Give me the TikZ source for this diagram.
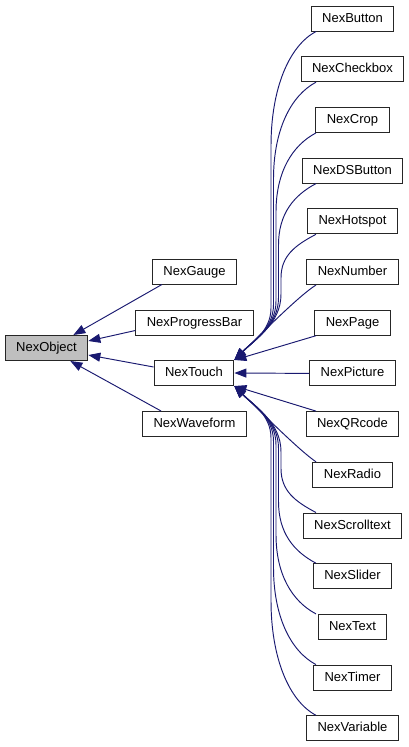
\documentclass[tikz,border=0pt]{standalone}
\usepackage{fontspec}
\setmainfont{Liberation Sans}
\usetikzlibrary{arrows.meta,calc}
\definecolor{edgec}{HTML}{191970}
\definecolor{selfill}{HTML}{BFBFBF}
\begin{document}
\begin{tikzpicture}[x=1pt,y=-1pt,
  box/.style={draw=black!85, line width=1pt, fill=white, minimum height=25pt,
    inner xsep=11pt, inner ysep=0pt, font=\fontsize{13}{15}\selectfont,
    text height=9.5pt, text depth=2.5pt},
  edge/.style={draw=edgec, line width=0.95pt, -{Triangle[length=12pt,width=9pt]}}]
\useasboundingbox (0,0) rectangle (409,747);

\node[box, fill=selfill] (obj) at (46.5,348) {NexObject};
\node[box] (gauge) at (194.5,271.5) {NexGauge};
\node[box] (pb) at (194.5,322.5) {NexProgressBar};
\node[box] (touch) at (194,373) {NexTouch};
\node[box] (wave) at (194.5,424) {NexWaveform};

\foreach \nm [count=\i from 0] in {NexButton,NexCheckbox,NexCrop,NexDSButton,NexHotspot,NexNumber,NexPage,NexPicture,NexQRcode,NexRadio,NexScrolltext,NexSlider,NexText,NexTimer,NexVariable}
  \node[box] (r\i) at (352.5,{18.5+50.7*\i}) {\nm};

\coordinate (sx) at (316,0);

% edges to NexObject
\draw[edge] ($(gauge.south west)+(10,0)$) -- ($(obj.north east)+(-15,0)$);
\draw[edge] ($(pb.west)+(0,8)$) -- ($(obj.east)+(0,-7)$);
\draw[edge] ($(touch.west)+(0,-6)$) -- ($(obj.east)+(0,7)$);
\draw[edge] ($(wave.north west)+(19,0)$) -- ($(obj.south east)+(-18,0)$);

% upper bundle
\foreach \k in {0,...,4} {
  \pgfmathsetmacro{\yK}{18.5+50.7*\k}
  \pgfmathsetmacro{\yB}{\yK+12.5}
  \pgfmathsetmacro{\dD}{360-\yB}
  \pgfmathsetmacro{\xV}{271+2.5*\k}
  \pgfmathsetmacro{\yM}{\yB+0.35*\dD}
  \pgfmathsetmacro{\cAx}{316-0.6*(316-\xV)}
  \pgfmathsetmacro{\cAy}{\yB+0.33*(316-\xV)}
  \pgfmathsetmacro{\cBy}{\yB+0.175*\dD}
  \pgfmathsetmacro{\qY}{360-1.4*(\xV-234)}
  \pgfmathsetmacro{\cCy}{360-0.77*(\xV-234)}
  \pgfmathsetmacro{\cDx}{234+0.45*(\xV-234)}
  \pgfmathsetmacro{\cDy}{360-0.45*(\xV-234)}
  \draw[edge] (r\k.south -| sx) .. controls (\cAx,\cAy) and (\xV,\cBy) .. (\xV,\yM)
     -- (\xV,\qY) .. controls (\xV,\cCy) and (\cDx,\cDy) .. (touch.north east);
}
% lower bundle
\foreach \k in {10,...,14} {
  \pgfmathsetmacro{\jJ}{14-\k}
  \pgfmathsetmacro{\yK}{18.5+50.7*\k}
  \pgfmathsetmacro{\yB}{\yK-12.5}
  \pgfmathsetmacro{\dD}{\yB-386}
  \pgfmathsetmacro{\xV}{271+2.5*\jJ}
  \pgfmathsetmacro{\yM}{\yB-0.35*\dD}
  \pgfmathsetmacro{\cAx}{316-0.6*(316-\xV)}
  \pgfmathsetmacro{\cAy}{\yB-0.33*(316-\xV)}
  \pgfmathsetmacro{\cBy}{\yB-0.175*\dD}
  \pgfmathsetmacro{\qY}{386+1.4*(\xV-234)}
  \pgfmathsetmacro{\cCy}{386+0.77*(\xV-234)}
  \pgfmathsetmacro{\cDx}{234+0.45*(\xV-234)}
  \pgfmathsetmacro{\cDy}{386+0.45*(\xV-234)}
  \draw[edge] (r\k.north -| sx) .. controls (\cAx,\cAy) and (\xV,\cBy) .. (\xV,\yM)
     -- (\xV,\qY) .. controls (\xV,\cCy) and (\cDx,\cDy) .. (touch.south east);
}
\draw[edge] (r5.south -| sx) .. controls (300,295) and (265,330) .. (touch.north east);
\draw[edge] (r6.south -| sx) -- (touch.north east);
\draw[edge] (r7.west) -- (touch.east);
\draw[edge] (r8.north -| sx) -- (touch.south east);
\draw[edge] (r9.north -| sx) .. controls (300,451) and (265,416) .. (touch.south east);
\end{tikzpicture}
\end{document}
